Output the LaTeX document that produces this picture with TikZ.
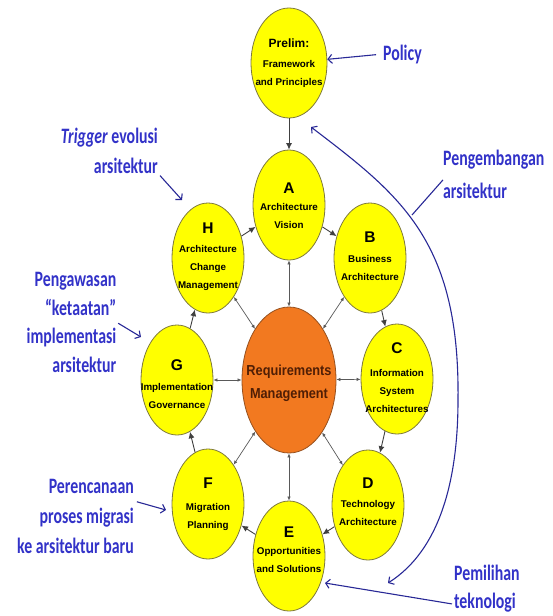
\documentclass[tikz,border=0pt]{standalone}
\usepackage{fontspec}
\setmainfont{Liberation Sans}
\newfontfamily\lblfont{Carlito}
\usetikzlibrary{shapes.geometric,arrows.meta}
\definecolor{stagefill}{RGB}{255,255,0}
\definecolor{stageline}{RGB}{125,120,60}
\definecolor{reqfill}{RGB}{242,121,32}
\definecolor{reqline}{RGB}{150,80,30}
\definecolor{reqtext}{RGB}{80,30,5}
\definecolor{lblblue}{RGB}{50,50,200}
\definecolor{arrblue}{RGB}{40,40,150}
\begin{document}
\begin{tikzpicture}[x=1pt,y=-1pt,
  stage/.style={ellipse,draw=stageline,line width=0.8pt,fill=stagefill,minimum width=72pt,minimum height=110pt,inner sep=0pt},
  reqnode/.style={ellipse,draw=reqline,line width=0.8pt,fill=reqfill,minimum width=94pt,minimum height=146pt,inner sep=0pt},
  letter/.style={font=\fontsize{15.5}{15}\selectfont\bfseries,anchor=base,inner sep=0pt},
  stagetxt/.style={font=\fontsize{9.8}{18}\selectfont\bfseries,align=center,anchor=base,inner sep=0pt},
  lbl/.style={font=\lblfont\fontsize{22}{30}\selectfont\bfseries,text=lblblue,inner sep=0pt,xscale=0.72},
  cyc/.style={-{Latex[length=6.5pt,width=6pt]},line width=0.9pt,draw=black!75},
  dbl/.style={{Latex[length=4pt,width=3.5pt]}-{Latex[length=4pt,width=3.5pt]},line width=0.7pt,draw=black!65},
  lblarr/.style={-{Straight Barb[length=4pt,width=9pt]},line width=1.1pt,draw=arrblue},
  bigarr/.style={{Straight Barb[length=4pt,width=9pt]}-{Straight Barb[length=4pt,width=9pt]},line width=1.1pt,draw=arrblue}
]
\useasboundingbox (0,0) rectangle (553,616);
% ellipses
\node[stage,minimum width=76pt] (P) at (289,63) {};
\node[stage] (A) at (289,205) {};
\node[stage] (B) at (370,258) {};
\node[stage] (C) at (397,379) {};
\node[stage] (D) at (368,505) {};
\node[stage] (E) at (289,556) {};
\node[stage] (F) at (208,504) {};
\node[stage] (G) at (177,380) {};
\node[stage] (H) at (208,258) {};
\node[reqnode] (R) at (289,380) {};
% texts in ellipses (base anchor = baseline of last line)
\node[letter,font=\fontsize{12}{12}\selectfont\bfseries] (Pl) at (289,47) {Prelim:};
\node[stagetxt] (Pt) at (289,85) {Framework\\and Principles};
\node[letter] (Al) at (289,193) {A};
\node[stagetxt] (At) at (289,228) {Architecture\\Vision};
\node[letter] (Bl) at (370,242) {B};
\node[stagetxt] (Bt) at (370,280) {Business\\Architecture};
\node[letter] (Cl) at (397,353) {C};
\node[stagetxt] (Ct) at (397,412) {Information\\System\\Architectures};
\node[letter] (Dl) at (368,488) {D};
\node[stagetxt] (Dt) at (368,525) {Technology\\Architecture};
\node[letter] (El) at (289,537) {E};
\node[stagetxt] (Et) at (289,572) {Opportunities\\and Solutions};
\node[letter] (Fl) at (208,488) {F};
\node[stagetxt] (Ft) at (208,528) {Migration\\Planning};
\node[letter] (Gl) at (177,370) {G};
\node[stagetxt] (Gt) at (177,408) {Implementation\\Governance};
\node[letter] (Hl) at (208,233) {H};
\node[stagetxt] (Ht) at (208,288) {Architecture\\Change\\Management};
\node[font=\fontsize{14.5}{23}\selectfont\bfseries,text=reqtext,align=center,anchor=base,inner sep=0pt,xscale=0.88] (Rt) at (289,398) {Requirements\\Management};
% cycle arrows
\draw[cyc] (P) -- (A);
\draw[cyc] (A) -- (B);
\draw[cyc] (B) -- (C);
\draw[cyc] (C) -- (D);
\draw[cyc] (D) -- (E);
\draw[cyc] (E) -- (F);
\draw[cyc] (F) -- (G);
\draw[cyc] (G) -- (H);
\draw[cyc] (H) -- (A);
% center double arrows
\foreach \n in {A,B,C,D,E,F,G,H} \draw[dbl] (R) -- (\n);
% blue labels (base anchor = baseline of last line)
\node[lbl,anchor=base west] (pol) at (383,60) {Policy};
\node[lbl,anchor=base east,align=right] (trig) at (158,173) {\textit{Trigger} evolusi\\arsitektur};
\node[lbl,anchor=base west,align=left,font=\lblfont\fontsize{22}{33}\selectfont\bfseries] (pk) at (443,198) {Pengembangan\\arsitektur};
\node[lbl,anchor=base east,align=right,font=\lblfont\fontsize{22}{28.5}\selectfont\bfseries] (pgw) at (116.5,372) {Pengawasan\\“ketaatan”\\implementasi\\arsitektur};
\node[lbl,anchor=base east,align=right] (per) at (134,553) {Perencanaan\\proses migrasi\\ke arsitektur baru};
\node[lbl,anchor=base west,align=left,font=\lblfont\fontsize{22}{28}\selectfont\bfseries] (pem) at (454,608) {Pemilihan\\teknologi};
% label connectors
\coordinate (trigE) at (182,200);
\coordinate (pgwE) at (141,337);
\coordinate (perE) at (166,510);
\coordinate (pemE) at (325,583);
\coordinate (cp) at (412,215);
\coordinate (ctop) at (311,127);
\coordinate (cmid) at (458,400);
\coordinate (cbot) at (388,583);
\draw[lblarr,shorten <=7pt] (pol.west) -- (P);
\draw[lblarr,shorten <=3pt] (trig.south east) -- (trigE);
\draw[lblarr,shorten <=2pt] (pgw.east) -- (pgwE);
\draw[lblarr,shorten <=3pt] ([yshift=15pt]per.east) -- (perE);
\draw[lblarr] ([shift={(-2pt,8pt)}]pem.south west) -- (pemE);
\draw[line width=1.1pt,draw=arrblue] ([yshift=-6pt]pk.west) -- (cp);
\draw[bigarr] (ctop) .. controls (400,195) and (460,240) .. (cmid) .. controls (458,480) and (440,550) .. (cbot);
\end{tikzpicture}
\end{document}
